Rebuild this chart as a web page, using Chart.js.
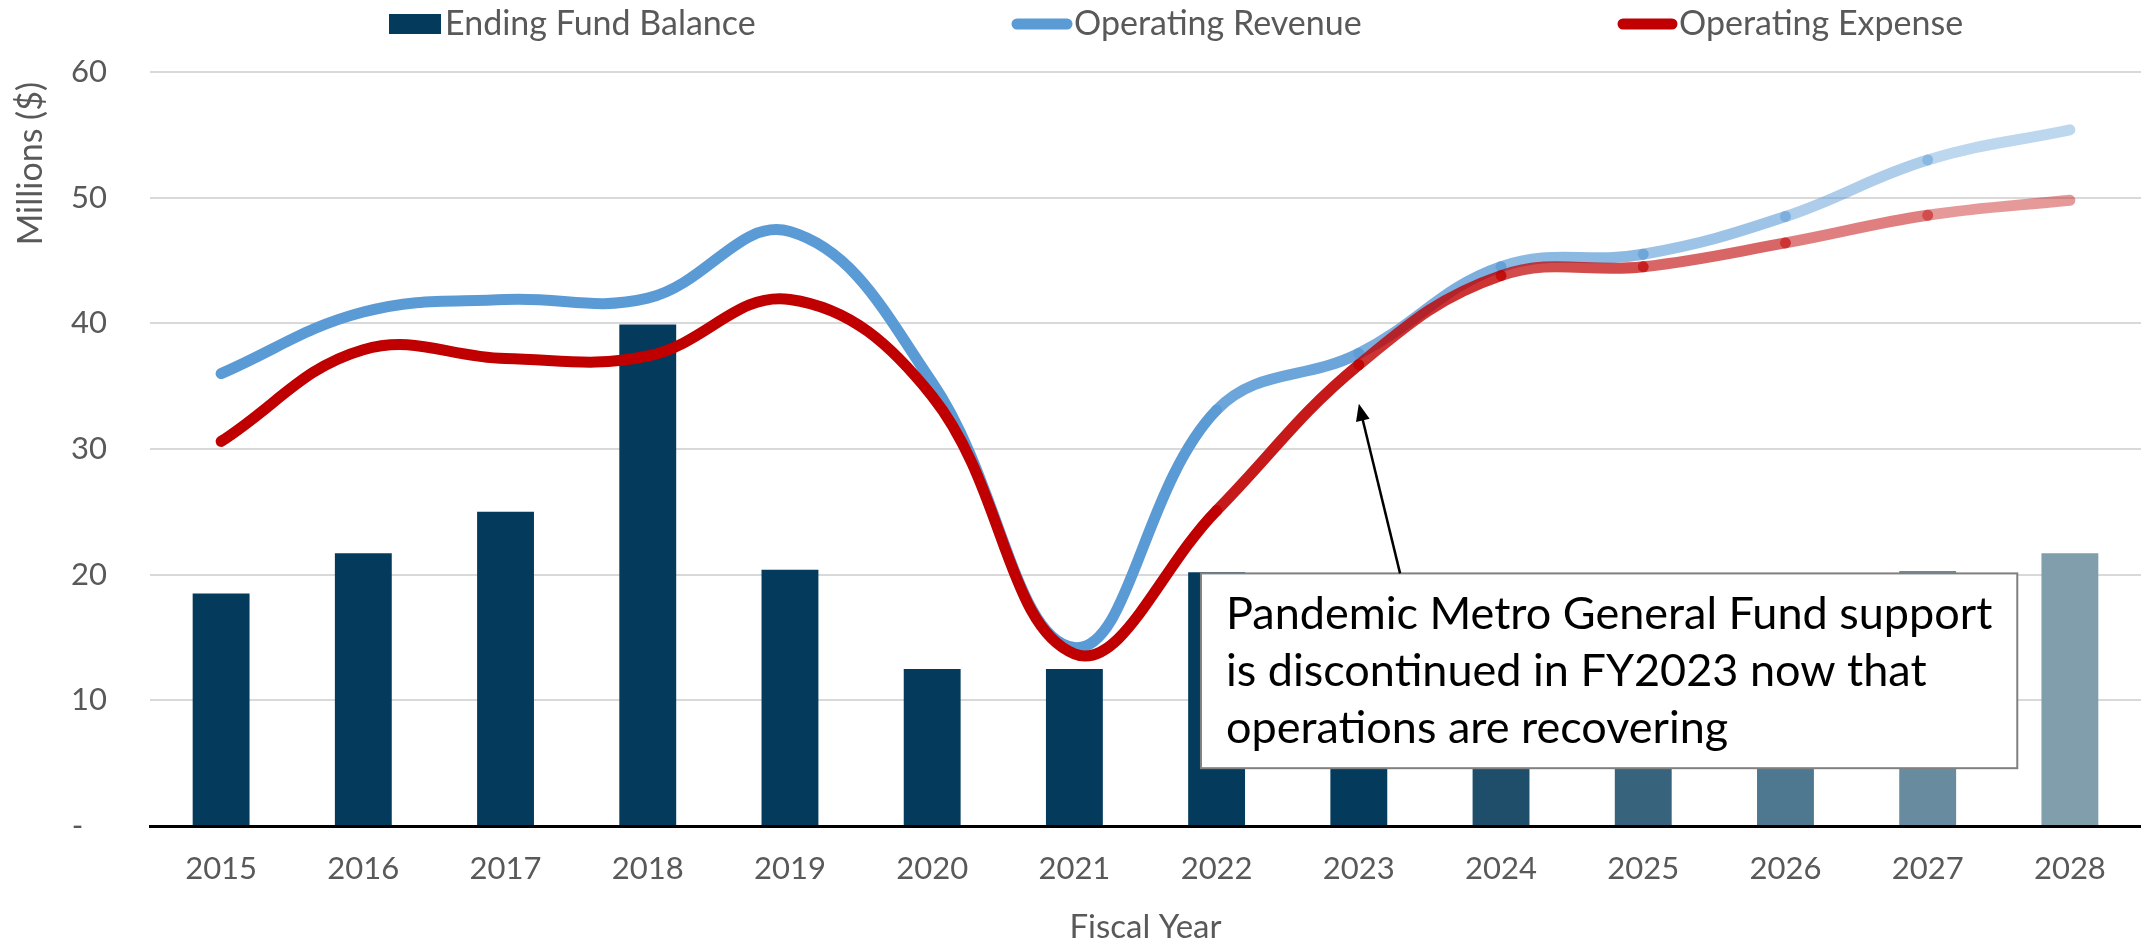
<!DOCTYPE html>
<html>
<head>
<meta charset="utf-8">
<script src="https://cdn.jsdelivr.net/npm/chart.js@4.4.0/dist/chart.umd.min.js"></script>
<style>
  html, body { margin: 0; padding: 0; background: #fff; }
</style>
</head>
<body>
<canvas id="fundChart" width="2141" height="945"></canvas>
<script>
// data (millions of dollars)
var years = ['2015', '2016', '2017', '2018', '2019', '2020', '2021', '2022', '2023', '2024', '2025', '2026', '2027', '2028'];
var fundBalance = [18.5, 21.7, 25.0, 39.9, 20.4, 12.5, 12.5, 20.2, 16.0, 16.5, 17.0, 17.5, 20.3, 21.7];
var opRevenue = [36.0, 40.9, 41.9, 42.0, 47.3, 35.3, 14.2, 33.1, 37.6, 44.5, 45.5, 48.5, 53.0, 55.4];
var opExpense = [30.6, 37.9, 37.2, 37.4, 41.9, 34.2, 13.7, 25.1, 36.7, 43.8, 44.5, 46.4, 48.6, 49.8];
var yTickValues = [0, 10, 20, 30, 40, 50, 60];

var noteLines = [
    'Pandemic Metro General Fund support',
    'is discontinued in FY2023 now that',
    'operations are recovering'
];

// styles
var barColors = ['#043B5C', '#043B5C', '#043B5C', '#043B5C', '#043B5C', '#043B5C', '#043B5C',
                 '#043B5C', '#043B5C', '#1E4E6A', '#37637D', '#4E788F', '#688BA0', '#819EAD'];
var segFade = [1, 1, 1, 1, 1, 1, 1, 0.9, 0.8, 0.7, 0.6, 0.5, 0.4];
var FONT = 'Lato';
var GREY_TEXT = '#595959';

function rgba(rgb, a) {
    return 'rgba(' + rgb[0] + ',' + rgb[1] + ',' + rgb[2] + ',' + a + ')';
}
var revRGB = [91, 155, 213];
var expRGB = [192, 0, 0];

var extras = {
    id: 'extras',
    afterDraw: function (chart) {
        var c = chart.ctx;
        var xs = chart.scales.x, ys = chart.scales.y;
        c.save();

        // legend
        c.font = '34px ' + FONT;
        c.textBaseline = 'middle';
        c.textAlign = 'left';
        c.fillStyle = barColors[0];
        c.fillRect(389, 14, 52, 20);
        c.fillStyle = GREY_TEXT;
        c.fillText(chart.data.datasets[0].label, 445, 24);

        c.lineCap = 'round';
        c.lineWidth = 11;
        c.strokeStyle = rgba(revRGB, 1);
        c.beginPath(); c.moveTo(1017, 24); c.lineTo(1067, 24); c.stroke();
        c.fillText(chart.data.datasets[1].label, 1074, 24);

        c.strokeStyle = rgba(expRGB, 1);
        c.beginPath(); c.moveTo(1623, 24); c.lineTo(1672, 24); c.stroke();
        c.fillText(chart.data.datasets[2].label, 1679, 24);

        // axis titles
        c.font = '33px ' + FONT;
        c.textAlign = 'center';
        c.textBaseline = 'alphabetic';
        c.fillText('Fiscal Year', (chart.chartArea.left + chart.chartArea.right) / 2, 938);
        c.save();
        c.translate(31, 82);
        c.rotate(-Math.PI / 2);
        c.font = '34px ' + FONT;
        c.textAlign = 'right';
        c.textBaseline = 'middle';
        c.fillText('Millions ($)', 0, 0);
        c.restore();

        // annotation box with arrow
        var bx0 = xs.getPixelForValue(6.89), bx1 = xs.getPixelForValue(12.63);
        var by0 = ys.getPixelForValue(20.1), by1 = ys.getPixelForValue(4.6);
        c.fillStyle = '#ffffff';
        c.fillRect(bx0, by0, bx1 - bx0, by1 - by0);
        c.strokeStyle = '#808080';
        c.lineWidth = 2;
        c.lineCap = 'butt';
        c.strokeRect(bx0, by0, bx1 - bx0, by1 - by0);

        var ax0 = xs.getPixelForValue(8.29), ay0 = by0;
        var ax1 = xs.getPixelForValue(8), ay1 = ys.getPixelForValue(33.6);
        var ang = Math.atan2(ay1 - ay0, ax1 - ax0);
        var head = 17, half = 7;
        c.strokeStyle = '#000';
        c.lineWidth = 2.5;
        c.beginPath();
        c.moveTo(ax0, ay0);
        c.lineTo(ax1 - Math.cos(ang) * head * 0.8, ay1 - Math.sin(ang) * head * 0.8);
        c.stroke();
        c.fillStyle = '#000';
        c.beginPath();
        c.moveTo(ax1, ay1);
        c.lineTo(ax1 - Math.cos(ang) * head - Math.sin(ang) * half, ay1 - Math.sin(ang) * head + Math.cos(ang) * half);
        c.lineTo(ax1 - Math.cos(ang) * head + Math.sin(ang) * half, ay1 - Math.sin(ang) * head - Math.cos(ang) * half);
        c.closePath();
        c.fill();

        c.font = '45px ' + FONT;
        c.fillStyle = '#000';
        c.textAlign = 'left';
        c.textBaseline = 'alphabetic';
        for (var i = 0; i < noteLines.length; i++) {
            c.fillText(noteLines[i], bx0 + 25, by0 + 56 + i * 57);
        }
        c.restore();
    }
};

var ctx = document.getElementById('fundChart').getContext('2d');
var fundChart = new Chart(ctx, {
    type: 'bar',
    data: {
        labels: years,
        datasets: [{
            label: 'Ending Fund Balance',
            data: fundBalance,
            backgroundColor: barColors,
            barPercentage: 0.4,
            categoryPercentage: 1.0,
            order: 3
        }, {
            type: 'line',
            label: 'Operating Revenue',
            data: opRevenue,
            borderColor: rgba(revRGB, 1),
            borderWidth: 11,
            borderCapStyle: 'round',
            borderJoinStyle: 'round',
            tension: 0.4,
            pointRadius: 0,
            fill: false,
            segment: {
                borderColor: function (s) { return rgba(revRGB, segFade[s.p0DataIndex]); }
            },
            order: 2
        }, {
            type: 'line',
            label: 'Operating Expense',
            data: opExpense,
            borderColor: rgba(expRGB, 1),
            borderWidth: 11,
            borderCapStyle: 'round',
            borderJoinStyle: 'round',
            tension: 0.4,
            pointRadius: 0,
            fill: false,
            segment: {
                borderColor: function (s) { return rgba(expRGB, segFade[s.p0DataIndex]); }
            },
            order: 1
        }]
    },
    options: {
        responsive: false,
        animation: false,
        devicePixelRatio: 1,
        layout: { padding: { top: 72, left: 0, right: 0, bottom: 0 } },
        plugins: {
            legend: { display: false },
            tooltip: { enabled: false }
        },
        scales: {
            x: {
                grid: { display: false, drawTicks: false },
                border: { display: true, color: '#000000', width: 3 },
                ticks: { color: GREY_TEXT, font: { family: FONT, size: 31 }, padding: 24, maxRotation: 0 },
                afterFit: function (s) { s.height = 119; }
            },
            y: {
                min: 0,
                max: 60,
                afterBuildTicks: function (s) {
                    s.ticks = yTickValues.map(function (v) { return { value: v }; });
                },
                grid: { color: '#D9D9D9', lineWidth: 2, drawTicks: false },
                border: { display: false },
                ticks: {
                    color: GREY_TEXT,
                    font: { family: FONT, size: 31 },
                    padding: 43,
                    callback: function (v) { return v === 0 ? '-   ' : v; }
                },
                afterFit: function (s) { s.width = 150; }
            }
        }
    },
    plugins: [extras]
});
</script>
</body>
</html>
